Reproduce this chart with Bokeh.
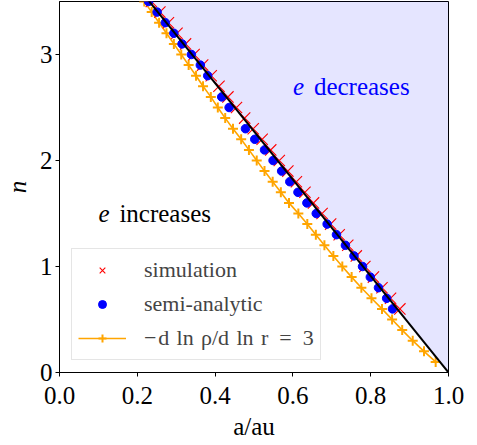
from bokeh.plotting import figure
from bokeh.models import Range1d, FixedTicker, Legend, LegendItem, NumeralTickFormatter
from bokeh.embed import file_html
from bokeh.resources import INLINE
from bokeh.core.properties import value

# ---- data ----
x_range_lim = [0.0, 1.0]
y_range_lim = [0.0, 3.5]
x_ticks = [0.0, 0.2, 0.4, 0.6, 0.8, 1.0]
y_ticks = [0, 1, 2, 3]

# boundary line (e decreases above it)
a_bound = [0.20, 1.00]
n_bound = [3.64, 0.00]
n_fill_top = [4.0, 4.0]

# simulation (red x)
n_sim = [3.5, 3.4, 3.3, 3.2, 3.1, 3.0, 2.9, 2.8, 2.7, 2.6, 2.5, 2.4, 2.3, 2.2, 2.1,
         2.0, 1.9, 1.8, 1.7, 1.6, 1.5, 1.4, 1.3, 1.2, 1.1, 1.0, 0.9, 0.8, 0.7, 0.6]
a_sim = [0.236, 0.258, 0.280, 0.302, 0.324, 0.346, 0.368, 0.390, 0.410, 0.433,
         0.455, 0.476, 0.498, 0.521, 0.543, 0.565, 0.587, 0.609, 0.631, 0.653,
         0.675, 0.697, 0.719, 0.741, 0.763, 0.785, 0.807, 0.829, 0.851, 0.875]

# semi-analytic (blue dots)
n_semi = [3.5, 3.4, 3.3, 3.2, 3.1, 3.0, 2.9, 2.8, 2.6, 2.5, 2.3, 2.2, 2.1, 2.0,
          1.9, 1.8, 1.7, 1.6, 1.5, 1.4, 1.3, 1.2, 1.1, 1.0, 0.9, 0.8, 0.7, 0.6]
a_semi = [0.229, 0.251, 0.272, 0.294, 0.315, 0.339, 0.362, 0.381, 0.417, 0.436,
          0.478, 0.502, 0.527, 0.549, 0.571, 0.592, 0.613, 0.636, 0.660, 0.688,
          0.712, 0.735, 0.757, 0.779, 0.799, 0.820, 0.841, 0.856]

# -d ln rho / d ln r = 3 (orange)
n_slope3 = [3.5, 3.4, 3.3, 3.2, 3.1, 3.0, 2.9, 2.8, 2.7, 2.6, 2.5, 2.4, 2.3, 2.2,
            2.1, 2.0, 1.9, 1.8, 1.7, 1.6, 1.5, 1.4, 1.3, 1.2, 1.1, 1.0, 0.9, 0.8,
            0.7, 0.6, 0.5, 0.4, 0.3, 0.2, 0.1]
a_slope3 = [0.218, 0.237, 0.256, 0.275, 0.294, 0.313, 0.332, 0.351, 0.369, 0.389,
            0.407, 0.426, 0.446, 0.467, 0.487, 0.507, 0.527, 0.548, 0.569, 0.590,
            0.614, 0.637, 0.659, 0.681, 0.704, 0.727, 0.751, 0.776, 0.802, 0.829,
            0.855, 0.881, 0.908, 0.937, 0.967]

SP = "\u2004"
EN = "\u2002"
labels = ["simulation", "semi-analytic",
          "\u2212\u200ad" + SP + "ln" + SP + "\u03c1/d" + SP + "ln" + SP + "r" + EN + "=" + EN + "3"]

FONT = "Liberation Serif"

p = figure(frame_width=389, frame_height=371, output_backend="svg", toolbar_location=None,
           x_range=Range1d(*x_range_lim), y_range=Range1d(*y_range_lim),
           min_border_left=52, min_border_right=20, min_border_top=1,
           min_border_bottom=73)
p.grid.visible = False
p.outline_line_color = "black"
p.outline_line_width = 1
p.background_fill_color = "white"
p.border_fill_color = "white"

p.varea(x=a_bound, y1=n_bound, y2=n_fill_top, fill_color="blue", fill_alpha=0.1)

r_oline = p.line(a_slope3, n_slope3, line_color="orange", line_width=1.6)
r_oplus = p.scatter(a_slope3, n_slope3, marker="cross", size=10, line_color="orange",
                    line_width=2)
r_sim = p.scatter(a_sim, n_sim, marker="x", size=16, line_color="red", line_width=1.1)
r_semi = p.scatter(a_semi, n_semi, marker="circle", size=8.5, fill_color="blue",
                   line_color="blue")
p.line(a_bound, n_bound, line_color="black", line_width=2)

txt_kw = dict(text_font=value(FONT), text_font_size="25px", text_baseline="alphabetic",
              text_align="left")
p.text(x=[0.1], y=[1.5], text=["e"], text_font_style="italic", text_color="black", **txt_kw)
p.text(x=[0.1], y=[1.5], text=["increases"], x_offset=21, text_color="black", **txt_kw)
p.text(x=[0.6], y=[2.7], text=["e"], text_font_style="italic", text_color="blue", **txt_kw)
p.text(x=[0.6], y=[2.7], text=["decreases"], x_offset=21, text_color="blue", **txt_kw)

for ax in (p.xaxis[0], p.yaxis[0]):
    ax.major_label_text_font = FONT
    ax.major_label_text_font_size = "25px"
    ax.axis_label_text_font = FONT
    ax.axis_label_text_font_size = "25px"
    ax.major_tick_in = 0
    ax.major_tick_out = 4
    ax.minor_tick_line_color = None
    ax.axis_line_color = "black"
    ax.major_tick_line_color = "black"
    ax.major_label_text_color = "black"
    ax.axis_label_text_color = "black"

p.xaxis.ticker = FixedTicker(ticks=x_ticks)
p.xaxis.formatter = NumeralTickFormatter(format="0.0")
p.xaxis.axis_label = "a/au"
p.xaxis.axis_label_text_font_style = "normal"
p.xaxis.major_label_standoff = 10
p.xaxis.axis_label_standoff = 6

p.yaxis.ticker = FixedTicker(ticks=y_ticks)
p.yaxis.formatter = NumeralTickFormatter(format="0")
p.yaxis.axis_label = "n"
p.yaxis.axis_label_text_font_style = "italic"
p.yaxis.major_label_standoff = 3
p.yaxis.axis_label_standoff = 6

legend = Legend(items=[
    LegendItem(label=labels[0], renderers=[r_sim]),
    LegendItem(label=labels[1], renderers=[r_semi]),
    LegendItem(label=labels[2], renderers=[r_oline, r_oplus]),
], location="bottom_left")
legend.margin = 12
legend.padding = 6
legend.spacing = 4
legend.glyph_width = 48
legend.glyph_height = 20
legend.label_height = 30
legend.label_standoff = 18
legend.label_text_font = FONT
legend.label_text_font_size = "22px"
legend.border_line_color = "#cccccc"
legend.border_line_width = 1
legend.background_fill_alpha = 0.8
p.add_layout(legend)

open("out.html", "w").write(file_html(p, INLINE))
